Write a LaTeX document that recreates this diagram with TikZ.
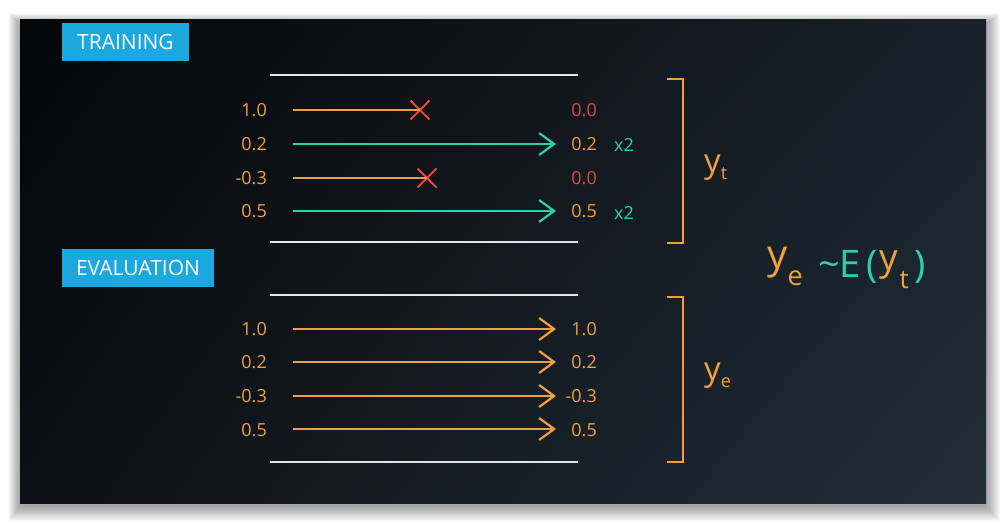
\documentclass[tikz,border=0pt]{standalone}
\usepackage{fontspec}
\setmainfont{Open Sans}
\usetikzlibrary{arrows.meta,shapes.misc,shadings}
\definecolor{bgUL}{HTML}{050607}
\definecolor{bgUR}{HTML}{18212A}
\definecolor{bgLL}{HTML}{0C1014}
\definecolor{bgLR}{HTML}{222E39}
\definecolor{udorange}{HTML}{F0A03C}
\definecolor{udteal}{HTML}{2CCFAE}
\definecolor{udred}{HTML}{E04848}
\definecolor{udcross}{HTML}{F04438}
\definecolor{udcyan}{HTML}{1BA8DE}
\definecolor{udwhite}{HTML}{E6E6E6}
\newcommand{\putat}[2]{\makebox[0pt][l]{\hspace*{#1}#2}}
\begin{document}
\begin{tikzpicture}[x=1pt,y=-1pt,
  tagbox/.style={fill=udcyan, text=white, font=\fontsize{21}{21}\selectfont, inner sep=0pt, minimum height=38pt},
  lab/.style={font=\fontsize{18}{18}\selectfont, text=udorange, inner sep=0pt},
  redlab/.style={lab, text=udred},
  twolab/.style={font=\fontsize{18}{18}\selectfont, text=udteal, inner sep=0pt, anchor=west},
  sepline/.style={draw=udwhite, line width=2pt},
  oline/.style={draw=udorange, line width=2.2pt},
  oarrow/.style={draw=udorange, line width=2.2pt, -{Straight Barb[length=15pt,width=22pt,line width=2.2pt]}},
  tarrow/.style={draw=udteal, line width=2.2pt, -{Straight Barb[length=15pt,width=22pt,line width=2.2pt]}},
  xmark/.style={cross out, draw=udcross, line width=2pt, minimum size=17pt, inner sep=0pt},
  bracketline/.style={draw=udorange, line width=2pt}]
\useasboundingbox (0,0) rectangle (1006,524);
\fill[white] (0,0) rectangle (1006,524);
% soft shadow
\foreach \i in {1,...,24}
  \fill[black, opacity=0.014] (20-0.5*\i,24-0.45*\i) rectangle (986+0.6*\i,506+0.65*\i);
% panel
\shade[upper left=bgUL, upper right=bgUR, lower left=bgLL, lower right=bgLR] (20,20) rectangle (986,503);

% tags
\node[tagbox, minimum width=127pt] (train) at (125.5,42) {TRAINING};
\node[tagbox, minimum width=152pt] (eval) at (138,268) {EVALUATION};

% separator lines
\coordinate (s1a) at (270,75);  \coordinate (s1b) at (578,75);
\coordinate (s2a) at (270,242); \coordinate (s2b) at (578,242);
\coordinate (s3a) at (270,295); \coordinate (s3b) at (578,295);
\coordinate (s4a) at (270,462); \coordinate (s4b) at (578,462);
\draw[sepline] (s1a) -- (s1b);
\draw[sepline] (s2a) -- (s2b);
\draw[sepline] (s3a) -- (s3b);
\draw[sepline] (s4a) -- (s4b);

% training rows
\node[lab, anchor=east] (tl1) at (267,110) {1.0};
\node[lab, anchor=east] (tl2) at (267,144) {0.2};
\node[lab, anchor=east] (tl3) at (267,178) {-0.3};
\node[lab, anchor=east] (tl4) at (267,211) {0.5};
\coordinate (ts1) at (293,110);
\coordinate (ts2) at (293,144);
\coordinate (ts3) at (293,178);
\coordinate (ts4) at (293,211);
\node[xmark] (x1) at (420,110) {};
\node[xmark] (x3) at (427,178) {};
\coordinate (te2) at (556,144);
\coordinate (te4) at (556,211);
\draw[oline] (ts1) -- (x1.center);
\draw[oline] (ts3) -- (x3.center);
\draw[tarrow] (ts2) -- (te2);
\draw[tarrow] (ts4) -- (te4);
\node[redlab, anchor=east] (tr1) at (597,110) {0.0};
\node[lab, anchor=east] (tr2) at (597,144) {0.2};
\node[redlab, anchor=east] (tr3) at (597,178) {0.0};
\node[lab, anchor=east] (tr4) at (597,211) {0.5};
\node[twolab] (m2) at (614,145) {x2};
\node[twolab] (m4) at (614,213) {x2};

% evaluation rows
\node[lab, anchor=east] (el1) at (267,329) {1.0};
\node[lab, anchor=east] (el2) at (267,362) {0.2};
\node[lab, anchor=east] (el3) at (267,396) {-0.3};
\node[lab, anchor=east] (el4) at (267,430) {0.5};
\coordinate (es1) at (293,329); \coordinate (ee1) at (556,329);
\coordinate (es2) at (293,362); \coordinate (ee2) at (556,362);
\coordinate (es3) at (293,396); \coordinate (ee3) at (556,396);
\coordinate (es4) at (293,429); \coordinate (ee4) at (556,429);
\draw[oarrow] (es1) -- (ee1);
\draw[oarrow] (es2) -- (ee2);
\draw[oarrow] (es3) -- (ee3);
\draw[oarrow] (es4) -- (ee4);
\node[lab, anchor=east] (er1) at (597,329) {1.0};
\node[lab, anchor=east] (er2) at (597,362) {0.2};
\node[lab, anchor=east] (er3) at (597,396) {-0.3};
\node[lab, anchor=east] (er4) at (597,430) {0.5};

% brackets
\coordinate (b1a) at (667,79);  \coordinate (b1b) at (683,79);
\coordinate (b1c) at (683,243); \coordinate (b1d) at (667,243);
\coordinate (b2a) at (667,297); \coordinate (b2b) at (683,297);
\coordinate (b2c) at (683,462); \coordinate (b2d) at (667,462);
\draw[bracketline] (b1a) -- (b1b) -- (b1c) -- (b1d);
\draw[bracketline] (b2a) -- (b2b) -- (b2c) -- (b2d);

\node[anchor=west, inner sep=0pt, text=udorange, font=\fontsize{33}{33}\selectfont] (yt) at (704,168)
  {y\raisebox{-7pt}{\fontsize{18}{18}\selectfont t}};
\node[anchor=west, inner sep=0pt, text=udorange, font=\fontsize{33}{33}\selectfont] (ye) at (704,376)
  {y\raisebox{-7pt}{\fontsize{18}{18}\selectfont e}};

% formula
\node[anchor=base west, inner sep=0pt, font=\fontsize{38}{38}\selectfont] (formula) at (766,277)
  {\putat{1pt}{\textcolor{udorange}{\raisebox{9pt}{\fontsize{40}{40}\selectfont y}}}%
   \putat{21.5pt}{\textcolor{udorange}{\raisebox{-8pt}{\fontsize{27}{27}\selectfont e}}}%
   \putat{52pt}{\textcolor{udteal}{\symbol{"7E}}}%
   \putat{73.5pt}{\textcolor{udteal}{E}}%
   \putat{100.5pt}{\textcolor{udteal}{(}}%
   \putat{113pt}{\textcolor{udorange}{\raisebox{7pt}{\fontsize{37}{37}\selectfont y}}}%
   \putat{133.5pt}{\textcolor{udorange}{\raisebox{-11pt}{\fontsize{26}{26}\selectfont t}}}%
   \hspace*{148.5pt}\textcolor{udteal}{)}};
\end{tikzpicture}
\end{document}
